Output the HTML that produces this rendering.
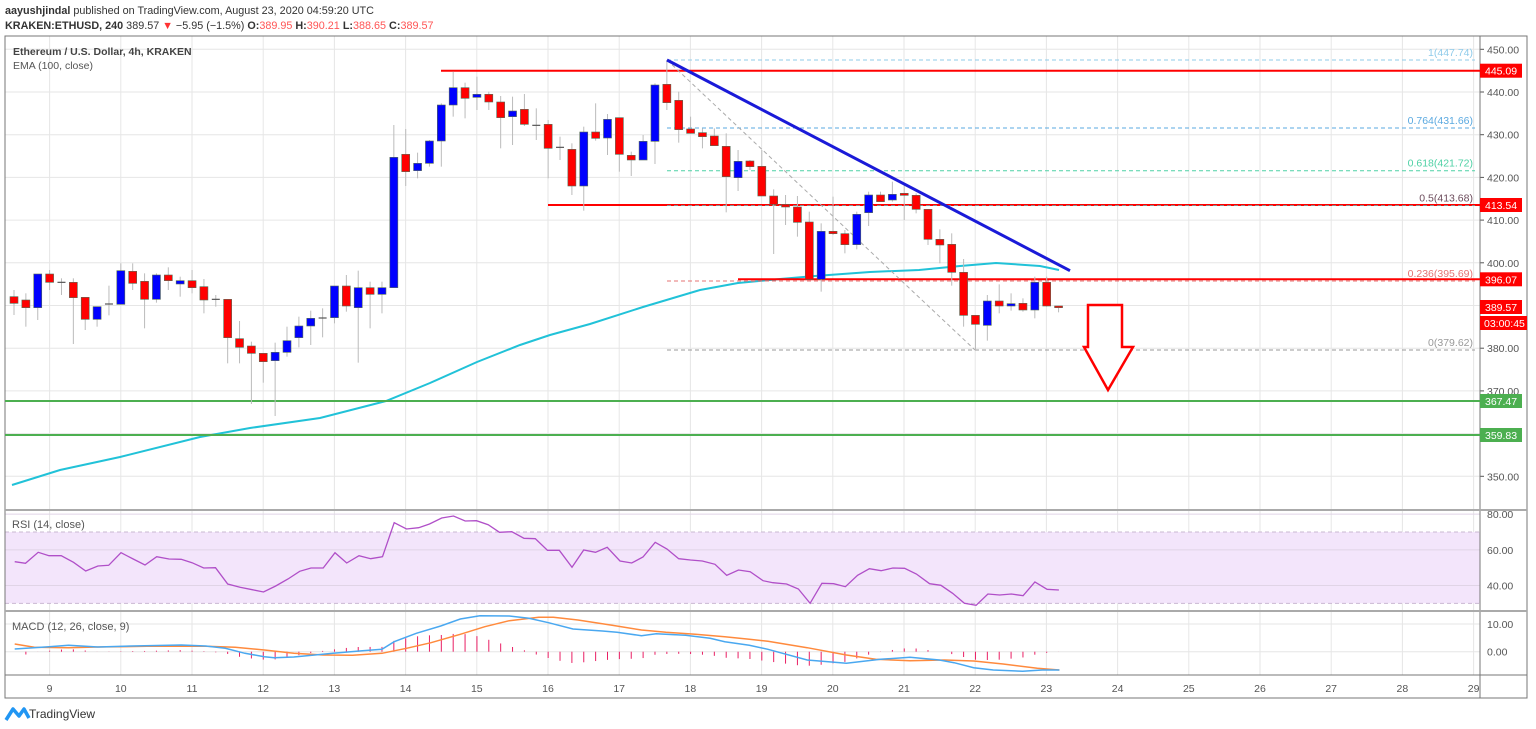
<!DOCTYPE html>
<html><head><meta charset="utf-8"><style>
body{margin:0;width:1536px;height:729px;background:#fff;overflow:hidden;font-family:"Liberation Sans",sans-serif}
svg{position:absolute;left:0;top:0}
</style></head><body>
<svg id="s" width="1536" height="729" xmlns="http://www.w3.org/2000/svg" font-family="Liberation Sans, sans-serif"></svg>
<script>
const S=document.getElementById('s');let h='';
const Y=p=>49.3+(450-p)*4.27;
const CX=i=>14+11.87*i;
const DX=d=>49.6+71.2*(d-9);
for(let d=9;d<=29;d++){const x=DX(d);h+=`<line x1="${x}" y1="36" x2="${x}" y2="675" stroke="#e6e6e6"/>`;}
for(let p=350;p<=450;p+=10){const y=Y(p);h+=`<line x1="5" y1="${y}" x2="1480" y2="${y}" stroke="#e6e6e6"/><text x="1487" y="${y+4}" font-size="10.5" fill="#555">${p}.00</text><line x1="1480" y1="${y}" x2="1484" y2="${y}" stroke="#555"/>`;}
const RY=v=>532+(70-v)*1.783;
h+=`<rect x="5" y="${RY(70)}" width="1475" height="${RY(30)-RY(70)}" fill="#f3e5fb"/>`;
[80,60,40].forEach(v=>{h+=`<line x1="5" y1="${RY(v)}" x2="1480" y2="${RY(v)}" stroke="#e0d4e6"/><text x="1487" y="${RY(v)+4}" font-size="10.5" fill="#555">${v}.00</text>`});
[70,30].forEach(v=>{h+=`<line x1="5" y1="${RY(v)}" x2="1480" y2="${RY(v)}" stroke="#c9b8d2" stroke-dasharray="4,3"/>`});
h+=`<line x1="5" y1="624" x2="1480" y2="624" stroke="#e6e6e6"/><line x1="5" y1="651.7" x2="1480" y2="651.7" stroke="#e6e6e6"/>
<text x="1487" y="628" font-size="10.5" fill="#555">10.00</text><text x="1487" y="655.7" font-size="10.5" fill="#555">0.00</text>`;
h+=`<rect x="5" y="36" width="1522" height="662" fill="none" stroke="#777"/>
<line x1="1480" y1="36" x2="1480" y2="698" stroke="#777"/>
<line x1="5" y1="510" x2="1527" y2="510" stroke="#aaa" stroke-width="2"/>
<line x1="5" y1="611" x2="1527" y2="611" stroke="#aaa" stroke-width="2"/>
<line x1="5" y1="675" x2="1527" y2="675" stroke="#777"/>`;
for(let d=9;d<=29;d++)h+=`<text x="${DX(d)}" y="692" font-size="10.5" fill="#555" text-anchor="middle">${d}</text>`;
const ema=[[12,485],[60,470],[120,457],[200,437],[250,428],[320,418],[386,401],[430,383],[477,362],[520,345],[550,335],[590,324],[643,307],[700,290],[738,283],[780,279],[815,276],[870,272],[919,270],[960,266],[996,263],[1040,266],[1059,270]];
h+=`<polyline points="${ema.map(p=>p.join(',')).join(' ')}" fill="none" stroke="#21c2d8" stroke-width="2"/>`;
h+=`<line x1="441" y1="70.7" x2="1480" y2="70.7" stroke="#f00" stroke-width="2"/>
<line x1="548" y1="205" x2="1480" y2="205" stroke="#f00" stroke-width="2"/>
<line x1="738" y1="279.3" x2="1480" y2="279.3" stroke="#f00" stroke-width="2"/>
<line x1="5" y1="401" x2="1480" y2="401" stroke="#4caf50" stroke-width="2"/>
<line x1="5" y1="435" x2="1480" y2="435" stroke="#4caf50" stroke-width="2"/>`;
const fib=[[60,'#8fcbea','1(447.74)'],[128,'#5aa9e0','0.764(431.66)'],[170.7,'#4fd1a5','0.618(421.72)'],[205.5,'#888','0.5(413.68)'],[281,'#e57373','0.236(395.69)'],[350,'#999','0(379.62)']];
fib.forEach(f=>{h+=`<line x1="667" y1="${f[0]}" x2="1475" y2="${f[0]}" stroke="${f[1]}" stroke-dasharray="4,3"/><text x="1473" y="${f[0]-4}" font-size="10.5" fill="${f[2]=='0.5(413.68)'?'#6d4c5c':f[1]}" text-anchor="end">${f[2]}</text>`});
h+=`<line x1="667" y1="60" x2="975" y2="350" stroke="#aaa" stroke-dasharray="4,3"/>`;
const c1=[[710,730,690,765,'r'],[720,743,700,800,'r'],[642,743,642,780,'b'],[642,667,630,690,'r'],[667,667,655,705,'d'],[667,713,655,852,'r'],[712,778,712,810,'r'],[740,778,740,800,'b'],[732,732,677,766,'d'],[632,733,610,733,'b'],[634,670,610,690,'r'],[664,718,640,805,'r'],[645,718,640,728,'b'],[645,662,622,690,'r'],[662,672,650,710,'b'],[662,683,630,700,'r'],[680,720,657,760,'r'],[718,718,705,740,'d'],[718,833,718,910,'r'],[836,862,783,910,'r'],[858,880,845,1032,'r'],[880,905,880,968,'r'],[877,902,848,1068,'b'],[842,877,800,890,'b'],[798,833,770,862,'b'],[775,798,752,855,'b'],[774,774,745,832,'d'],[678,773,678,790,'b'],[678,738,645,755,'r'],[683,743,632,908,'b'],[683,703,665,805,'r'],[683,703,665,760,'b'],[292,683,195,683,'b'],[283,335,207,378,'r'],[310,332,278,355,'b'],[243,310,240,320,'b'],[135,243,130,320,'b'],[83,135,35,170,'b'],[83,115,68,175,'r'],[103,112,50,150,'b'],[103,126,95,150,'r'],[126,173,108,265,'r'],[153,170,110,255,'b'],[148,193,102,198,'r'],[196,196,145,240,'d']];
const c2=[[193,265,180,355,'r'],[262,262,230,300,'d'],[268,378,250,405,'r'],[216,378,200,452,'b'],[216,235,130,242,'r'],[178,234,162,285,'b'],[173,283,173,335,'r'],[286,300,275,348,'r'],[244,300,225,300,'b'],[75,244,70,312,'b'],[73,128,0,150,'r'],[121,209,95,248,'r'],[207,220,170,220,'r'],[218,230,205,265,'r'],[228,257,205,257,'r'],[259,350,220,457,'r'],[304,353,270,393,'b'],[303,320,300,330,'r'],[319,408,270,408,'r'],[408,433,388,582,'r'],[433,441,405,495,'r'],[441,487,408,530,'r'],[486,658,455,658,'r'],[514,658,490,695,'b'],[514,521,410,525,'r'],[521,554,510,580,'r'],[463,554,455,568,'b'],[405,458,395,498,'b'],[405,425,395,425,'r'],[403,420,365,425,'b'],[400,406,375,480,'r'],[406,448,400,460,'r'],[448,538,448,555,'r'],[538,555,508,610,'r'],[553,637,520,677,'r'],[637,766,597,800,'r'],[766,793,766,870,'r'],[723,796,705,842,'b'],[723,738,673,760,'r'],[731,738,700,752,'b'],[730,750,715,755,'r'],[667,750,650,775,'b'],[667,738,650,740,'r'],[738,743,738,757,'r']];
const all=c1.concat(c2);
all.forEach((c,i)=>{const x=CX(i),t=60+c[0]/3,b=60+c[1]/3,wt=60+c[2]/3,wb=60+c[3]/3;
const col=c[4]=='r'?'#ff0000':c[4]=='b'?'#0000ff':'#6b2020';
h+=`<line x1="${x}" y1="${wt}" x2="${x}" y2="${wb}" stroke="#bbb"/>`;
if(c[4]=='d')h+=`<line x1="${x-4}" y1="${t}" x2="${x+4}" y2="${t}" stroke="#555" stroke-width="1.2"/>`;
else h+=`<rect x="${x-4}" y="${t}" width="8" height="${Math.max(b-t,1.5)}" fill="${col}" stroke="#556b55" stroke-width="0.6"/>`;});
h+=`<line x1="667" y1="60" x2="1070" y2="270.7" stroke="#1a1ad8" stroke-width="3"/>`;
h+=`<polygon points="1088,305 1122,305 1122,347 1133,347 1108,390 1084,347 1088,347" fill="#fff" stroke="#f00" stroke-width="2.5"/>`;
const r1=[[30,185],[52,190],[78,157],[100,167],[125,167],[150,187],[175,213],[200,198],[222,196],[247,158],[272,177],[296,195],[320,170],[345,177],[370,178],[392,188],[416,204],[440,203],[465,252],[490,262],[515,269],[538,276],[563,258],[588,237],[612,214],[635,204],[660,204],[684,158],[708,189],[733,167],[757,176],[781,170],[805,68],[830,87],[855,83],[877,72],[902,54],[926,48],[950,63],[973,62],[997,74],[1020,97],[1045,95],[1070,115],[1093,116],[1118,151],[1142,151],[1168,202],[1192,150],[1216,157],[1240,142],[1266,183],[1290,189],[1313,171],[1338,127],[1362,147],[1386,176],[1410,180],[1434,183],[1460,193],[1484,226],[1508,210],[1532,215],[1558,242]].map(p=>[p[0]/2.042,500+p[1]/3]);
const r2=[[10,248],[38,252],[62,267],[86,310],[110,250],[134,251],[158,260],[183,226],[207,206],[231,212],[255,204],[279,205],[303,222],[330,251],[353,256],[377,280],[401,310],[425,316],[449,282],[473,285],[497,282],[521,287],[545,246],[570,268],[594,270]].map(p=>[768+p[0]/2.042,500+p[1]/3]);
h+=`<polyline points="${r1.concat(r2).map(p=>p[0].toFixed(1)+','+p[1].toFixed(1)).join(' ')}" fill="none" stroke="#b04fc8" stroke-width="1.3"/>`;
const bl=[[30,147],[100,140],[140,136],[200,141],[270,138],[370,135],[420,138],[460,145],[500,160],[540,170],[560,173],[600,171],[680,160],[740,152],[780,148],[805,125],[850,100],[900,78],[940,57],[980,47],[1040,48],[1080,55],[1120,68],[1170,87],[1230,93],[1260,97],[1310,107],[1340,101],[1400,106],[1450,115],[1480,125],[1530,136],[1568,148]].map(p=>[p[0]/2.042,600+p[1]/3]).concat([[80,180],[160,190],[230,178],[290,172],[350,180],[380,188],[420,203],[460,210],[520,214],[560,210],[595,210]].map(p=>[768+p[0]/2.042,600+p[1]/3]));
const or=[[30,132],[70,142],[140,143],[200,141],[300,139],[420,139],[480,142],[540,150],[600,160],[660,165],[720,166],[780,160],[830,145],[880,128],[940,103],[990,80],[1040,62],[1100,52],[1130,52],[1180,60],[1250,76],[1310,90],[1360,97],[1420,103],[1480,110],[1530,118],[1568,124]].map(p=>[p[0]/2.042,600+p[1]/3]).concat([[80,143],[160,165],[220,178],[290,182],[360,180],[420,183],[480,192],[550,205],[595,210]].map(p=>[768+p[0]/2.042,600+p[1]/3]));
function interp(a,x){for(let i=0;i<a.length-1;i++){if(x>=a[i][0]&&x<=a[i+1][0]){const t=(x-a[i][0])/(a[i+1][0]-a[i][0]);return a[i][1]+t*(a[i+1][1]-a[i][1]);}}return a[a.length-1][1];}
for(let i=0;i<all.length;i++){const x=CX(i);let d=(interp(or,x)-interp(bl,x))*1.2;d=Math.max(-14,Math.min(22,d));
h+=`<line x1="${x}" y1="651.7" x2="${x}" y2="${651.7-d}" stroke="#e91e63" stroke-width="1"/>`;}
h+=`<polyline points="${or.map(p=>p[0].toFixed(1)+','+p[1].toFixed(1)).join(' ')}" fill="none" stroke="#ff8a3d" stroke-width="1.5"/>`;
h+=`<polyline points="${bl.map(p=>p[0].toFixed(1)+','+p[1].toFixed(1)).join(' ')}" fill="none" stroke="#4aa8f0" stroke-width="1.5"/>`;
[[70.7,'445.09','#f00'],[205,'413.54','#f00'],[279.3,'396.07','#f00'],[307,'389.57','#f00'],[401,'367.47','#4caf50'],[435,'359.83','#4caf50']].forEach(l=>{
h+=`<rect x="1480" y="${l[0]-7}" width="42" height="14" fill="${l[2]}"/><text x="1485" y="${l[0]+4}" font-size="10.5" fill="#fff">${l[1]}</text>`;});
h+=`<rect x="1480" y="316" width="47" height="14" fill="#f00"/><text x="1484" y="327" font-size="10.5" fill="#fff">03:00:45</text>`;
h+=`<text x="5" y="14" font-size="10.8" fill="#333"><tspan font-weight="bold">aayushjindal</tspan> published on TradingView.com, August 23, 2020 04:59:20 UTC</text>
<text x="5" y="29" font-size="10.8" fill="#333"><tspan font-weight="bold">KRAKEN:ETHUSD, 240</tspan> 389.57 <tspan fill="#f33">▼</tspan> −5.95 (−1.5%) <tspan font-weight="bold">O:</tspan><tspan fill="#f55">389.95</tspan> <tspan font-weight="bold">H:</tspan><tspan fill="#f55">390.21</tspan> <tspan font-weight="bold">L:</tspan><tspan fill="#f55">388.65</tspan> <tspan font-weight="bold">C:</tspan><tspan fill="#f55">389.57</tspan></text>
<text x="13" y="55" font-size="10.5" fill="#444" font-weight="bold">Ethereum / U.S. Dollar, 4h, KRAKEN</text>
<text x="13" y="69" font-size="10.5" fill="#555">EMA (100, close)</text>
<text x="12" y="528" font-size="11" fill="#555">RSI (14, close)</text>
<text x="12" y="630" font-size="11" fill="#555">MACD (12, 26, close, 9)</text>
<path d="M6,720 L13,709 L19,716 L24,709 L29,718" fill="none" stroke="#2196f3" stroke-width="3.5" stroke-linejoin="round"/>
<text x="29" y="718" font-size="12" fill="#333">TradingView</text>`;
S.innerHTML=h;
</script>
</body></html>
